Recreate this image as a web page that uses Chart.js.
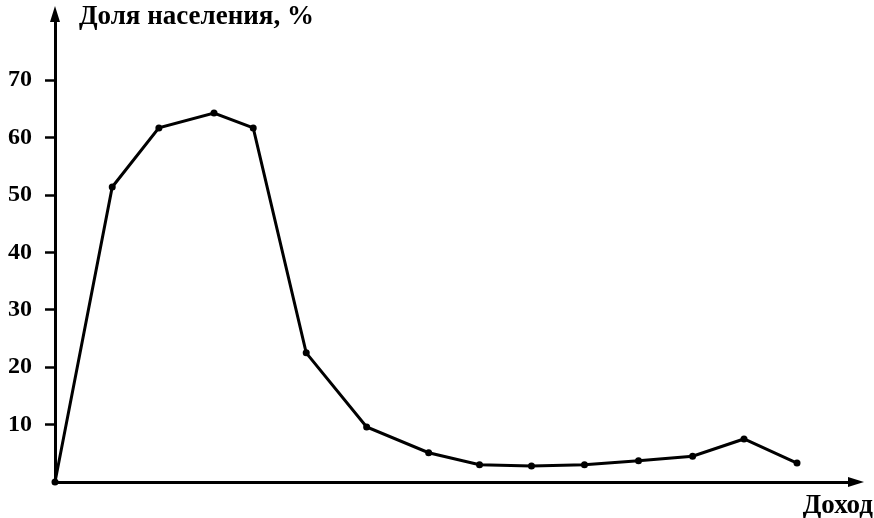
<!DOCTYPE html>
<html>
<head>
<meta charset="utf-8">
<script src="https://cdn.jsdelivr.net/npm/chart.js@4"></script>
<style>
html,body{margin:0;padding:0;background:#fff;}
#wrap{width:874px;height:518px;position:relative;}
</style>
</head>
<body>
<div id="wrap"><canvas id="c" width="874" height="518"></canvas></div>
<script>
// Income steps (x) and share of population, % (y)
const incomeSteps = [0, 1.08, 1.96, 3.0, 3.74, 4.74, 5.88, 7.05, 8.01, 8.99, 9.99, 11.01, 12.03, 13.0, 14.0];
const populationShare = [0, 51.4, 61.7, 64.3, 61.7, 22.5, 9.6, 5.1, 3.0, 2.8, 3.0, 3.7, 4.5, 7.5, 3.3];
const yTickValues = [10, 20, 30, 40, 50, 60, 70];
const yAxisTitle = 'Доля населения, %';
const xAxisTitle = 'Доход';

const FONT = '"Liberation Serif", "Times New Roman", serif';

const arrowsPlugin = {
  id: 'arrows',
  afterDraw(chart) {
    const ctx = chart.ctx;
    const a = chart.chartArea;
    ctx.save();
    ctx.fillStyle = '#000';
    ctx.strokeStyle = '#000';
    ctx.lineWidth = 3;
    // y arrow
    ctx.beginPath();
    ctx.moveTo(a.left, a.top);
    ctx.lineTo(a.left, a.top - 2);
    ctx.stroke();
    ctx.beginPath();
    ctx.moveTo(a.left, a.top - 14);
    ctx.lineTo(a.left - 5, a.top + 2);
    ctx.lineTo(a.left + 5, a.top + 2);
    ctx.closePath();
    ctx.fill();
    // x arrow
    ctx.beginPath();
    ctx.moveTo(a.right + 14, a.bottom);
    ctx.lineTo(a.right - 2, a.bottom - 5);
    ctx.lineTo(a.right - 2, a.bottom + 5);
    ctx.closePath();
    ctx.fill();
    // titles
    ctx.font = 'bold 27px ' + FONT;
    ctx.textBaseline = 'middle';
    ctx.textAlign = 'left';
    ctx.fillText(yAxisTitle, 79, 17);
    ctx.textAlign = 'right';
    ctx.fillText(xAxisTitle, 873, 506);
    ctx.restore();
  }
};

new Chart(document.getElementById('c'), {
  type: 'line',
  data: {
    datasets: [{
      data: incomeSteps.map((x, i) => ({x: x, y: populationShare[i]})),
      borderColor: '#000',
      backgroundColor: '#000',
      borderWidth: 3,
      pointRadius: 3.5,
      pointBackgroundColor: '#000',
      pointBorderWidth: 0,
      tension: 0,
      clip: false
    }]
  },
  options: {
    responsive: false,
    animation: false,
    layout: {padding: {left: 0, top: 20, right: 24, bottom: 0}},
    plugins: {legend: {display: false}, tooltip: {enabled: false}},
    scales: {
      x: {
        type: 'linear',
        min: 0,
        max: 15,
        ticks: {display: false},
        grid: {display: true, drawOnChartArea: false, drawTicks: false},
        border: {display: true, color: '#000', width: 3},
        afterFit(s) { s.height = 36; s.paddingLeft = 0; s.paddingRight = 0; }
      },
      y: {
        min: 0,
        max: 80.5,
        afterBuildTicks(s) { s.ticks = yTickValues.map(v => ({value: v})); },
        ticks: {
          color: '#000',
          padding: 13,
          font: {family: FONT, size: 24, weight: 'bold'}
        },
        grid: {drawOnChartArea: false, drawTicks: true, tickLength: 10, tickWidth: 2.5, color: '#000'},
        border: {display: true, color: '#000', width: 3},
        afterFit(s) { s.width = 55; s.paddingTop = 0; s.paddingBottom = 0; }
      }
    }
  },
  plugins: [arrowsPlugin]
});
</script>
</body>
</html>
